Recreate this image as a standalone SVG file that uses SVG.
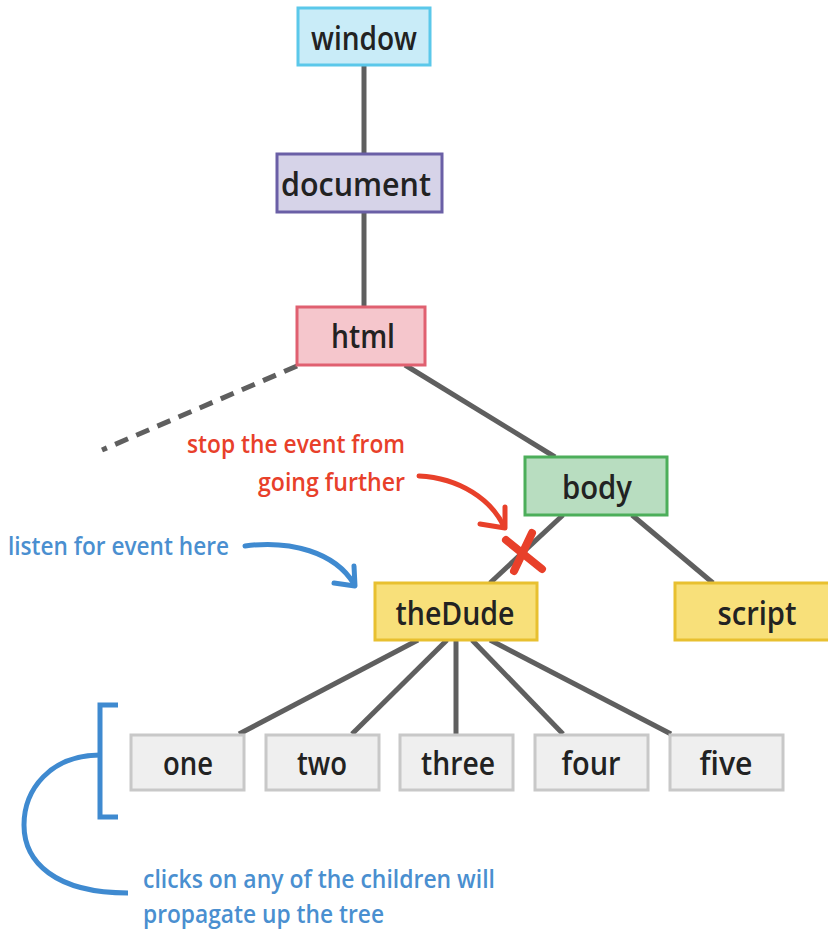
<svg xmlns="http://www.w3.org/2000/svg" width="828" height="933" viewBox="0 0 828 933">
<style>
.lbl{font-family:"Open Sans","Liberation Sans",sans-serif;font-weight:600;font-size:33px;fill:#222;text-anchor:middle}
.ann{font-family:"Open Sans","Liberation Sans",sans-serif;font-weight:600;font-size:25px}
.edge{stroke:#5f5f5f;stroke-width:5;fill:none;stroke-linecap:butt}
.child rect{fill:#efefef;stroke:#c8c8c8;stroke-width:3}
</style>
<rect width="828" height="933" fill="#fff"/>
<g id="connectors">
<line class="edge" x1="364" y1="65" x2="364" y2="154"/>
<line class="edge" x1="364" y1="212" x2="364" y2="307"/>
<line class="edge" x1="297" y1="366" x2="102" y2="450" stroke-dasharray="14 9"/>
<line class="edge" x1="405" y1="365" x2="555" y2="457"/>
<line class="edge" x1="563" y1="515" x2="490" y2="583"/>
<line class="edge" x1="632" y1="515" x2="713" y2="583"/>
<line class="edge" x1="418" y1="640" x2="239" y2="734"/>
<line class="edge" x1="447" y1="640" x2="352" y2="734"/>
<line class="edge" x1="456" y1="640" x2="456" y2="734"/>
<line class="edge" x1="472" y1="640" x2="563" y2="734"/>
<line class="edge" x1="490" y1="640" x2="671" y2="734"/>
</g>
<g id="window"><rect x="298" y="8" width="132" height="57" fill="#c9ecf8" stroke="#5bc8ea" stroke-width="3"/><text class="lbl" x="364" y="50" textLength="106" lengthAdjust="spacingAndGlyphs">window</text></g>
<g id="document"><rect x="277" y="154" width="165" height="58" fill="#d6d3e8" stroke="#6a5fa6" stroke-width="3"/><text class="lbl" x="356" y="196" textLength="150" lengthAdjust="spacingAndGlyphs">document</text></g>
<g id="html"><rect x="297" y="307" width="128" height="58" fill="#f5c6cc" stroke="#e06070" stroke-width="3"/><text class="lbl" x="363" y="348" textLength="64" lengthAdjust="spacingAndGlyphs">html</text></g>
<g id="body"><rect x="525" y="457" width="142" height="58" fill="#b8ddc0" stroke="#4cae5a" stroke-width="3"/><text class="lbl" x="597" y="499" textLength="70" lengthAdjust="spacingAndGlyphs">body</text></g>
<g id="theDude"><rect x="375" y="583" width="162" height="57" fill="#f8e07a" stroke="#e8c030" stroke-width="3"/><text class="lbl" x="455" y="625" textLength="119" lengthAdjust="spacingAndGlyphs">theDude</text></g>
<g id="script"><rect x="675" y="583" width="160" height="57" fill="#f8e07a" stroke="#e8c030" stroke-width="3"/><text class="lbl" x="757" y="625" textLength="79" lengthAdjust="spacingAndGlyphs">script</text></g>
<g id="one" class="child"><rect x="131" y="735" width="113" height="55"/><text class="lbl" x="188" y="775" textLength="50" lengthAdjust="spacingAndGlyphs">one</text></g>
<g id="two" class="child"><rect x="266" y="735" width="113" height="55"/><text class="lbl" x="322" y="775" textLength="50" lengthAdjust="spacingAndGlyphs">two</text></g>
<g id="three" class="child"><rect x="400" y="735" width="113" height="55"/><text class="lbl" x="458" y="775" textLength="74" lengthAdjust="spacingAndGlyphs">three</text></g>
<g id="four" class="child"><rect x="535" y="735" width="113" height="55"/><text class="lbl" x="591" y="775" textLength="59" lengthAdjust="spacingAndGlyphs">four</text></g>
<g id="five" class="child"><rect x="670" y="735" width="113" height="55"/><text class="lbl" x="726" y="775" textLength="53" lengthAdjust="spacingAndGlyphs">five</text></g>
<g id="stop-note">
<text class="ann" fill="#e8402a" x="187" y="453" textLength="218" lengthAdjust="spacingAndGlyphs">stop the event from</text>
<text class="ann" fill="#e8402a" x="258" y="491" textLength="147" lengthAdjust="spacingAndGlyphs">going further</text>
<path d="M419,476 C460,478 492,500 504,527" fill="none" stroke="#e8402a" stroke-width="5" stroke-linecap="round"/>
<polyline points="480,524 505,528 505,507" fill="none" stroke="#e8402a" stroke-width="5" stroke-linecap="round" stroke-linejoin="round"/>
<line x1="506" y1="540" x2="542" y2="569" stroke="#e8402a" stroke-width="8" stroke-linecap="round"/>
<line x1="532" y1="533" x2="514" y2="571" stroke="#e8402a" stroke-width="8" stroke-linecap="round"/>
</g>
<g id="listen-note">
<text class="ann" fill="#4a8fd0" x="8" y="555" textLength="221" lengthAdjust="spacingAndGlyphs">listen for event here</text>
<path d="M245,546 C290,540 335,552 354,584" fill="none" stroke="#3f8ad0" stroke-width="5" stroke-linecap="round"/>
<polyline points="334,583 355,586 354,566" fill="none" stroke="#3f8ad0" stroke-width="5" stroke-linecap="round" stroke-linejoin="round"/>
</g>
<g id="children-note">
<polyline points="118,705 100,705 100,817 118,817" fill="none" stroke="#3f8ad0" stroke-width="5"/>
<path d="M100,755 C50,755 24,790 24,825 C24,862 55,893 128,893" fill="none" stroke="#3f8ad0" stroke-width="5"/>
<text class="ann" fill="#4a8fd0" x="143" y="888" textLength="352" lengthAdjust="spacingAndGlyphs">clicks on any of the children will</text>
<text class="ann" fill="#4a8fd0" x="143" y="923" textLength="241" lengthAdjust="spacingAndGlyphs">propagate up the tree</text>
</g>
</svg>
